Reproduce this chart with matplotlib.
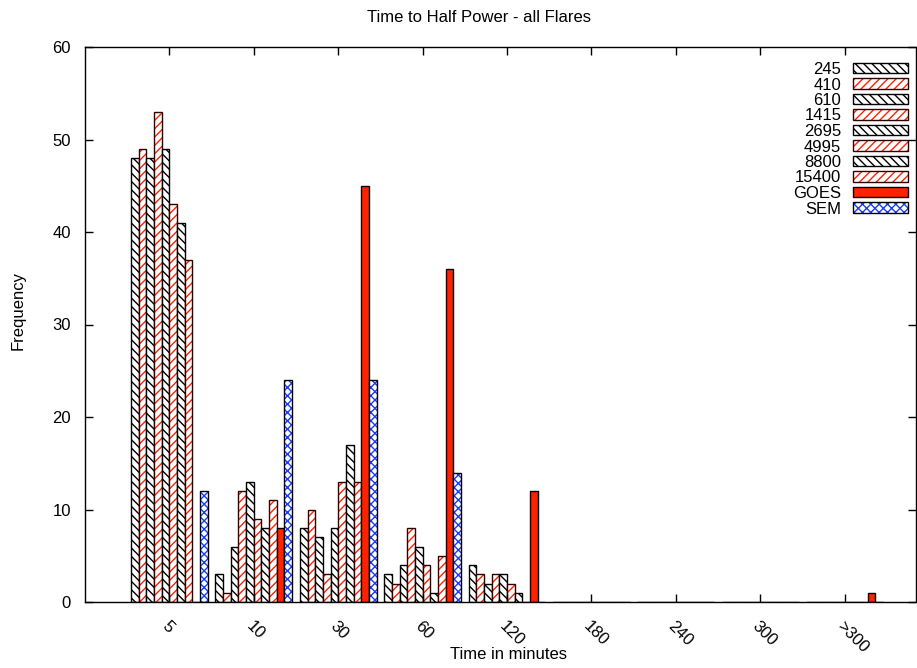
import numpy as np
import matplotlib
matplotlib.use('Agg')
import matplotlib.pyplot as plt
import matplotlib.patches as mpatches

plt.rcParams['font.family'] = ['Liberation Sans', 'DejaVu Sans']
plt.rcParams['font.size'] = 12

bins = ['5', '10', '30', '60', '120', '180', '240', '300', '>300']
series = ['245', '410', '610', '1415', '2695', '4995', '8800', '15400', 'GOES', 'SEM']

f245   = [48, 3, 8, 3, 4, 0, 0, 0, 0]
f410   = [49, 1, 10, 2, 3, 0, 0, 0, 0]
f610   = [48, 6, 7, 4, 2, 0, 0, 0, 0]
f1415  = [53, 12, 3, 8, 3, 0, 0, 0, 0]
f2695  = [49, 13, 8, 6, 3, 0, 0, 0, 0]
f4995  = [43, 9, 13, 4, 2, 0, 0, 0, 0]
f8800  = [41, 8, 17, 1, 1, 0, 0, 0, 0]
f15400 = [37, 11, 13, 5, 0, 0, 0, 0, 0]
goes   = [0, 8, 45, 36, 12, 0, 0, 0, 1]
sem    = [12, 24, 24, 14, 0, 0, 0, 0, 0]

values = [f245, f410, f610, f1415, f2695, f4995, f8800, f15400, goes, sem]

RED = '#ff2200'
BLUE = '#1a3cff'
BLK_HATCH = '\\\\\\\\'
RED_HATCH = '////'
SEM_HATCH = 'xxxx'

fig = plt.figure(figsize=(9.17, 6.68), dpi=100)
ax = fig.add_axes([85 / 917, 66 / 668, 830.5 / 917, 555 / 668])

x = np.arange(len(bins))
w = 1 / 11
for j, (name, vals) in enumerate(zip(series, values)):
    pos = x + (j - 4.5) * w
    if name == 'GOES':
        ax.bar(pos, vals, w, color=RED, edgecolor='black', linewidth=1.0)
    elif name == 'SEM':
        ax.bar(pos, vals, w, color='white', edgecolor=BLUE, hatch=SEM_HATCH, linewidth=0)
        ax.bar(pos, vals, w, fill=False, edgecolor='black', linewidth=1.0)
    elif j % 2 == 0:
        ax.bar(pos, vals, w, color='white', edgecolor='black', hatch=BLK_HATCH, linewidth=1.0)
    else:
        ax.bar(pos, vals, w, color='white', edgecolor=RED, hatch=RED_HATCH, linewidth=0)
        ax.bar(pos, vals, w, fill=False, edgecolor='#330000', linewidth=1.0)

# legend proxies
handles = []
for j, name in enumerate(series):
    if name == 'GOES':
        h = mpatches.Patch(facecolor=RED, edgecolor='black', linewidth=1.0)
    elif name == 'SEM':
        h = (mpatches.Patch(facecolor='white', edgecolor=BLUE, hatch=SEM_HATCH, linewidth=0),
             mpatches.Patch(fill=False, edgecolor='black', linewidth=1.0))
    elif j % 2 == 0:
        h = mpatches.Patch(facecolor='white', edgecolor='black', hatch=BLK_HATCH, linewidth=1.0)
    else:
        h = (mpatches.Patch(facecolor='white', edgecolor=RED, hatch=RED_HATCH, linewidth=0),
             mpatches.Patch(fill=False, edgecolor='#330000', linewidth=1.0))
    handles.append(h)

ax.legend(handles, series, loc='upper right', bbox_to_anchor=(908 / 917, (668 - 62) / 668),
          bbox_transform=fig.transFigure, frameon=False, markerfirst=False,
          handlelength=3.3, handleheight=0.6, labelspacing=0.03, borderpad=0,
          borderaxespad=0, handletextpad=0.7, fontsize=12)

ax.set_xlim(-1, 8.84)
ax.set_ylim(0, 60)
ax.set_yticks(range(0, 61, 10))
ax.set_xticks(x)
ax.set_xticklabels(bins, rotation=-45, ha='left', va='top', rotation_mode='anchor')
ax.tick_params(direction='in', length=6, top=True, right=True, width=1)
ax.tick_params(axis='x', pad=12)
ax.tick_params(axis='y', pad=10)
for s in ax.spines.values():
    s.set_linewidth(1.0)

fig.text(479 / 917, 1 - 17 / 668, 'Time to Half Power - all Flares', fontsize=12,
         ha='center', va='center')
ax.set_xlabel('Time in minutes', fontsize=12)
ax.xaxis.set_label_coords(508 / 917, 21 / 668, transform=fig.transFigure)
ax.set_ylabel('Frequency', fontsize=12)
ax.yaxis.set_label_coords(26 / 917, 358 / 668, transform=fig.transFigure)

fig.savefig('out.png', dpi=100)
